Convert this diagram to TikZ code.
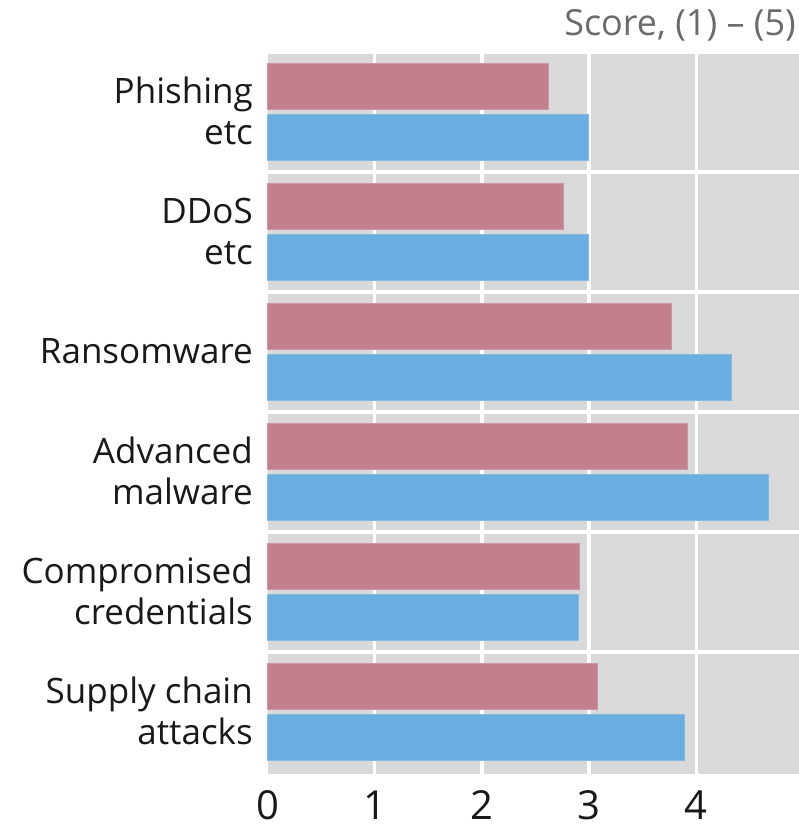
\documentclass[tikz,border=0pt]{standalone}
\usepackage{fontspec}
\setmainfont{Open Sans}
\definecolor{panel}{HTML}{D9D9D9}
\definecolor{pinkbar}{HTML}{C27F8E}
\definecolor{pinkedge}{HTML}{CE95A2}
\definecolor{bluebar}{HTML}{6AADE0}
\definecolor{blueedge}{HTML}{83BBE6}
\definecolor{titlegrey}{HTML}{6B6B6B}
\begin{document}
\begin{tikzpicture}[x=1pt,y=-1pt,
  catlabel/.style={anchor=east,align=right,inner sep=0pt,text=black!90,font=\fontsize{35}{41}\selectfont},
  ticklabel/.style={anchor=base,inner sep=0pt,text=black!90,font=\fontsize{40}{44}\selectfont},
  pinkbox/.style={fill=pinkbar,draw=pinkedge,line width=0.8pt},
  bluebox/.style={fill=bluebar,draw=blueedge,line width=0.8pt},
  gridw/.style={draw=white,line width=3.5pt}]
\useasboundingbox (0,0) rectangle (799,830);
% panels
\foreach \i in {0,...,4}{
  \fill[panel] (267.5,{54+120*\i}) rectangle (799,{170+120*\i});
}
\fill[panel] (267.5,654) rectangle (799,774);
% grid lines
\foreach \k in {1,...,4}{
  \draw[gridw] ({267.5+107.2*\k},54) -- ({267.5+107.2*\k},774);
}
% bars
\foreach \i/\p/\b in {0/2.62/2.99,1/2.76/2.99,2/3.77/4.33,3/3.92/4.67,4/2.91/2.90,5/3.08/3.89}{
  \draw[pinkbox] (267.5,{63+120*\i}) rectangle ({267.5+107.2*\p},{109+120*\i});
  \draw[bluebox] (267.5,{114+120*\i}) rectangle ({267.5+107.2*\b},{160+120*\i});
}
% category labels
\node[catlabel] (l1) at (253,111) {Phishing\\etc};
\node[catlabel] (l2) at (253,231) {DDoS\\etc};
\node[catlabel] (l3) at (253,351) {Ransomware};
\node[catlabel] (l4) at (253,471) {Advanced\\malware};
\node[catlabel] (l5) at (253,591) {Compromised\\credentials};
\node[catlabel] (l6) at (253,711) {Supply chain\\attacks};
% tick labels
\foreach \k in {0,...,4}{
  \node[ticklabel] (t\k) at ({267.5+107.2*\k},819) {\k};
}
% title
\node[anchor=base east,inner sep=0pt,text=titlegrey,font=\fontsize{36}{40}\selectfont] (title) at (796,35) {Score, (1) – (5)};
\end{tikzpicture}
\end{document}
